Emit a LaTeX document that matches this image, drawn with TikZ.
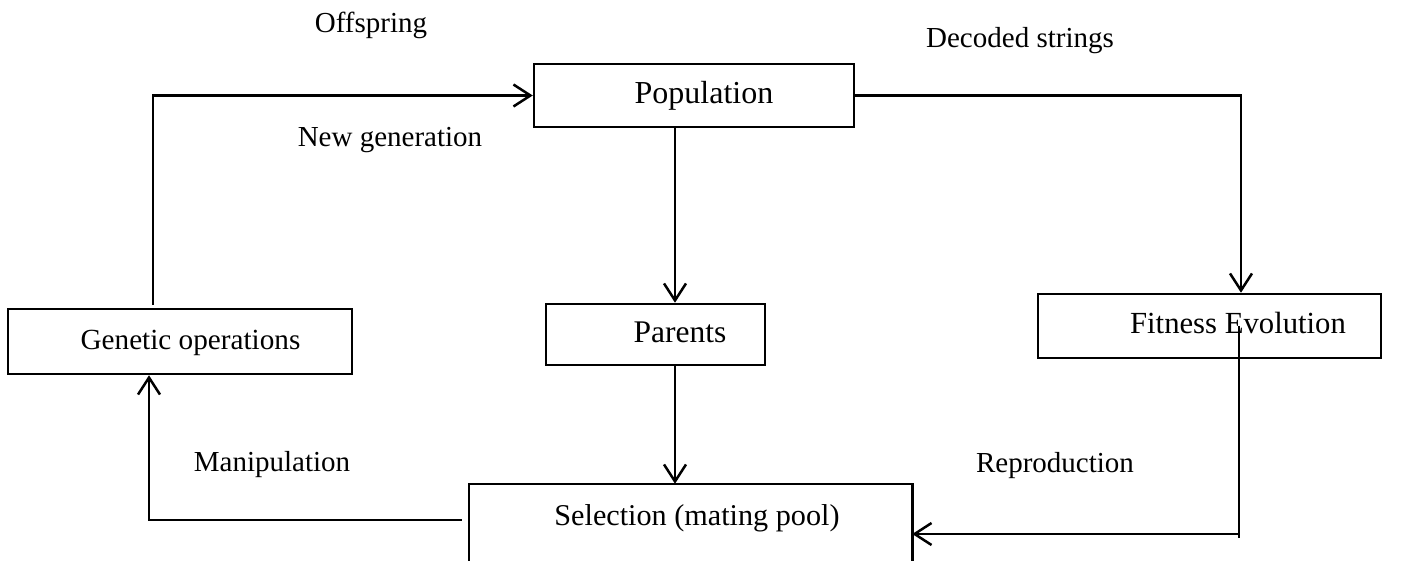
\documentclass[tikz,border=0pt]{standalone}
\usepackage{fontspec}
\setmainfont{Liberation Serif}
\usetikzlibrary{arrows.meta,calc}
\begin{document}
\begin{tikzpicture}[x=1pt,y=-1pt,
  line width=2.5pt,
  box/.style={draw, line width=2.5pt, inner sep=0pt, text height=22pt, text depth=6pt},
  tag/.style={inner sep=0pt, font=\fontsize{29}{34}\selectfont},
  flow/.style={-{Straight Barb[length=17pt,width=22pt]}, line width=2.5pt},
  link/.style={line width=2.5pt}]
\useasboundingbox (0,0) rectangle (1401,561);

% boxes of the cycle
\node[box, minimum width=320, minimum height=63, font=\fontsize{32}{38}\selectfont]
  (pop) at (694,95.5) {\hspace*{20pt}Population};
\node[box, minimum width=219, minimum height=61, font=\fontsize{31.5}{38}\selectfont]
  (par) at (655.5,334.5) {\hspace*{49pt}Parents};
\node[box, minimum width=343, minimum height=64, font=\fontsize{30.7}{37}\selectfont]
  (fit) at (1209.5,326) {\hspace*{57pt}Fitness Evolution};
\node[box, minimum width=344, minimum height=65, font=\fontsize{29.2}{35}\selectfont]
  (gen) at (180,341.5) {\hspace*{21pt}Genetic operations};
\node[inner sep=0pt, minimum width=441, minimum height=64, text height=22pt, text depth=6pt,
  font=\fontsize{30.2}{36}\selectfont]
  (sel) at (690.5,517) {\hspace*{13pt}Selection (mating pool)};
% the mating pool box runs off the lower edge
\draw[link] (sel.north west |- 0,575) -- (sel.north west) -- (sel.north east) -- (sel.north east |- 0,575);

% connector labels
\node[tag, anchor=base] (off) at (371,33) {Offspring};
\node[tag, anchor=base] (dec) at (1020,48) {Decoded strings};
\node[tag, anchor=base] (newgen) at (390,147) {New generation};
\node[tag, anchor=base] (man) at (272,471) {Manipulation};
\node[tag, anchor=base] (rep) at (1055,472) {Reproduction};

% connectors
\coordinate (mid) at (675,0);
\draw[flow] (pop.south -| mid) -- (par.north -| mid);
\draw[flow] (par.south -| mid) -- (sel.north -| mid);
\draw[flow] ([yshift=3pt]gen.north -| 153,0) |- (pop.west);
\draw[flow] (pop.east) -| ([xshift=31.5pt]fit.north);
\draw[flow] ([xshift=-7pt,yshift=-3pt]sel.west) -| ([xshift=-31pt]gen.south);
\coordinate (rp) at (1239,538);
\coordinate (rc) at (1239,534);
\draw[link] (fit.center -| rp) -- (rp);
\draw[flow] (rc) -- (sel.east |- rc);
\end{tikzpicture}
\end{document}
